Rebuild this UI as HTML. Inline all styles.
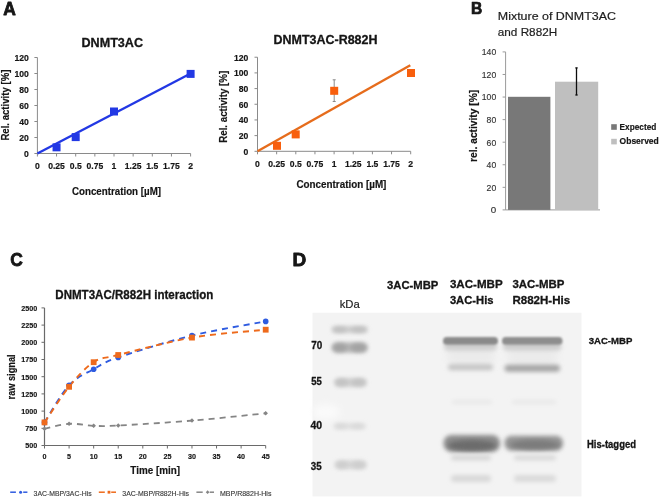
<!DOCTYPE html>
<html><head><meta charset="utf-8"><style>
html,body{margin:0;padding:0;background:#fff;width:660px;height:498px;overflow:hidden}
svg{display:block;font-family:"Liberation Sans",sans-serif}
</style></head><body>
<svg width="660" height="498" viewBox="0 0 660 498">
<defs><filter id="gb" filterUnits="userSpaceOnUse" x="0" y="0" width="660" height="498"><feGaussianBlur stdDeviation="0.35"/></filter></defs>
<g filter="url(#gb)">
<rect x="0" y="0" width="660" height="498" fill="#fff"/>
<text x="3.30" y="14.80" font-size="19.0" font-weight="bold" fill="#141414" stroke="#141414" stroke-width="0.8" stroke-linejoin="round" textLength="12.6" lengthAdjust="spacingAndGlyphs" >A</text>
<text x="81.50" y="47.00" font-size="12.4" font-weight="bold" fill="#141414" stroke="#141414" stroke-width="0.3" stroke-linejoin="round" textLength="61.5" lengthAdjust="spacingAndGlyphs" >DNMT3AC</text>
<line x1="37.40" y1="57.50" x2="37.40" y2="153.50" stroke="#8a8a8a" stroke-width="1" />
<line x1="37.40" y1="153.50" x2="190.60" y2="153.50" stroke="#8a8a8a" stroke-width="1" />
<line x1="34.40" y1="153.50" x2="37.40" y2="153.50" stroke="#8a8a8a" stroke-width="1" />
<text x="28.90" y="156.90" font-size="9.3" font-weight="bold" fill="#141414" stroke="#141414" stroke-width="0.18" stroke-linejoin="round" text-anchor="end" textLength="4.7816" lengthAdjust="spacingAndGlyphs" >0</text>
<line x1="34.40" y1="137.50" x2="37.40" y2="137.50" stroke="#8a8a8a" stroke-width="1" />
<text x="28.90" y="140.90" font-size="9.3" font-weight="bold" fill="#141414" stroke="#141414" stroke-width="0.18" stroke-linejoin="round" text-anchor="end" textLength="9.5632" lengthAdjust="spacingAndGlyphs" >20</text>
<line x1="34.40" y1="121.50" x2="37.40" y2="121.50" stroke="#8a8a8a" stroke-width="1" />
<text x="28.90" y="124.90" font-size="9.3" font-weight="bold" fill="#141414" stroke="#141414" stroke-width="0.18" stroke-linejoin="round" text-anchor="end" textLength="9.5632" lengthAdjust="spacingAndGlyphs" >40</text>
<line x1="34.40" y1="105.50" x2="37.40" y2="105.50" stroke="#8a8a8a" stroke-width="1" />
<text x="28.90" y="108.90" font-size="9.3" font-weight="bold" fill="#141414" stroke="#141414" stroke-width="0.18" stroke-linejoin="round" text-anchor="end" textLength="9.5632" lengthAdjust="spacingAndGlyphs" >60</text>
<line x1="34.40" y1="89.50" x2="37.40" y2="89.50" stroke="#8a8a8a" stroke-width="1" />
<text x="28.90" y="92.90" font-size="9.3" font-weight="bold" fill="#141414" stroke="#141414" stroke-width="0.18" stroke-linejoin="round" text-anchor="end" textLength="9.5632" lengthAdjust="spacingAndGlyphs" >80</text>
<line x1="34.40" y1="73.50" x2="37.40" y2="73.50" stroke="#8a8a8a" stroke-width="1" />
<text x="28.90" y="76.90" font-size="9.3" font-weight="bold" fill="#141414" stroke="#141414" stroke-width="0.18" stroke-linejoin="round" text-anchor="end" textLength="14.344800000000001" lengthAdjust="spacingAndGlyphs" >100</text>
<line x1="34.40" y1="57.50" x2="37.40" y2="57.50" stroke="#8a8a8a" stroke-width="1" />
<text x="28.90" y="60.90" font-size="9.3" font-weight="bold" fill="#141414" stroke="#141414" stroke-width="0.18" stroke-linejoin="round" text-anchor="end" textLength="14.344800000000001" lengthAdjust="spacingAndGlyphs" >120</text>
<line x1="37.40" y1="153.50" x2="37.40" y2="156.50" stroke="#8a8a8a" stroke-width="1" />
<text x="37.40" y="168.90" font-size="9.3" font-weight="bold" fill="#141414" stroke="#141414" stroke-width="0.18" stroke-linejoin="round" text-anchor="middle" textLength="4.7816" lengthAdjust="spacingAndGlyphs" >0</text>
<line x1="56.55" y1="153.50" x2="56.55" y2="156.50" stroke="#8a8a8a" stroke-width="1" />
<text x="56.55" y="168.90" font-size="9.3" font-weight="bold" fill="#141414" stroke="#141414" stroke-width="0.18" stroke-linejoin="round" text-anchor="middle" textLength="16.7356" lengthAdjust="spacingAndGlyphs" >0.25</text>
<line x1="75.70" y1="153.50" x2="75.70" y2="156.50" stroke="#8a8a8a" stroke-width="1" />
<text x="75.70" y="168.90" font-size="9.3" font-weight="bold" fill="#141414" stroke="#141414" stroke-width="0.18" stroke-linejoin="round" text-anchor="middle" textLength="11.954" lengthAdjust="spacingAndGlyphs" >0.5</text>
<line x1="94.85" y1="153.50" x2="94.85" y2="156.50" stroke="#8a8a8a" stroke-width="1" />
<text x="94.85" y="168.90" font-size="9.3" font-weight="bold" fill="#141414" stroke="#141414" stroke-width="0.18" stroke-linejoin="round" text-anchor="middle" textLength="16.7356" lengthAdjust="spacingAndGlyphs" >0.75</text>
<line x1="114.00" y1="153.50" x2="114.00" y2="156.50" stroke="#8a8a8a" stroke-width="1" />
<text x="114.00" y="168.90" font-size="9.3" font-weight="bold" fill="#141414" stroke="#141414" stroke-width="0.18" stroke-linejoin="round" text-anchor="middle" textLength="4.7816" lengthAdjust="spacingAndGlyphs" >1</text>
<line x1="133.15" y1="153.50" x2="133.15" y2="156.50" stroke="#8a8a8a" stroke-width="1" />
<text x="133.15" y="168.90" font-size="9.3" font-weight="bold" fill="#141414" stroke="#141414" stroke-width="0.18" stroke-linejoin="round" text-anchor="middle" textLength="16.7356" lengthAdjust="spacingAndGlyphs" >1.25</text>
<line x1="152.30" y1="153.50" x2="152.30" y2="156.50" stroke="#8a8a8a" stroke-width="1" />
<text x="152.30" y="168.90" font-size="9.3" font-weight="bold" fill="#141414" stroke="#141414" stroke-width="0.18" stroke-linejoin="round" text-anchor="middle" textLength="11.954" lengthAdjust="spacingAndGlyphs" >1.5</text>
<line x1="171.45" y1="153.50" x2="171.45" y2="156.50" stroke="#8a8a8a" stroke-width="1" />
<text x="171.45" y="168.90" font-size="9.3" font-weight="bold" fill="#141414" stroke="#141414" stroke-width="0.18" stroke-linejoin="round" text-anchor="middle" textLength="16.7356" lengthAdjust="spacingAndGlyphs" >1.75</text>
<line x1="190.60" y1="153.50" x2="190.60" y2="156.50" stroke="#8a8a8a" stroke-width="1" />
<text x="190.60" y="168.90" font-size="9.3" font-weight="bold" fill="#141414" stroke="#141414" stroke-width="0.18" stroke-linejoin="round" text-anchor="middle" textLength="4.7816" lengthAdjust="spacingAndGlyphs" >2</text>
<text x="72.00" y="194.50" font-size="10.6" font-weight="bold" fill="#141414" stroke="#141414" stroke-width="0.18" stroke-linejoin="round" textLength="89" lengthAdjust="spacingAndGlyphs" >Concentration [µM]</text>
<text x="9.30" y="140.60" font-size="10.2" font-weight="bold" fill="#141414" stroke="#141414" stroke-width="0.18" stroke-linejoin="round" textLength="71" lengthAdjust="spacingAndGlyphs" transform="rotate(-90 9.30 140.60)" >Rel. activity [%]</text>
<line x1="37.40" y1="153.50" x2="190.60" y2="73.50" stroke="#2338e4" stroke-width="2.4" />
<rect x="52.55" y="143.34" width="8.00" height="8.00" fill="#2338e4" />
<rect x="71.70" y="133.10" width="8.00" height="8.00" fill="#2338e4" />
<rect x="110.00" y="107.50" width="8.00" height="8.00" fill="#2338e4" />
<rect x="186.60" y="69.90" width="8.00" height="8.00" fill="#2338e4" />
<text x="273.50" y="44.20" font-size="12.4" font-weight="bold" fill="#141414" stroke="#141414" stroke-width="0.3" stroke-linejoin="round" textLength="104" lengthAdjust="spacingAndGlyphs" >DNMT3AC-R882H</text>
<line x1="257.50" y1="57.22" x2="257.50" y2="151.30" stroke="#8a8a8a" stroke-width="1" />
<line x1="257.50" y1="151.30" x2="410.70" y2="151.30" stroke="#8a8a8a" stroke-width="1" />
<line x1="254.50" y1="151.30" x2="257.50" y2="151.30" stroke="#8a8a8a" stroke-width="1" />
<text x="248.40" y="154.70" font-size="9.3" font-weight="bold" fill="#141414" stroke="#141414" stroke-width="0.18" stroke-linejoin="round" text-anchor="end" textLength="4.7816" lengthAdjust="spacingAndGlyphs" >0</text>
<line x1="254.50" y1="135.62" x2="257.50" y2="135.62" stroke="#8a8a8a" stroke-width="1" />
<text x="248.40" y="139.02" font-size="9.3" font-weight="bold" fill="#141414" stroke="#141414" stroke-width="0.18" stroke-linejoin="round" text-anchor="end" textLength="9.5632" lengthAdjust="spacingAndGlyphs" >20</text>
<line x1="254.50" y1="119.94" x2="257.50" y2="119.94" stroke="#8a8a8a" stroke-width="1" />
<text x="248.40" y="123.34" font-size="9.3" font-weight="bold" fill="#141414" stroke="#141414" stroke-width="0.18" stroke-linejoin="round" text-anchor="end" textLength="9.5632" lengthAdjust="spacingAndGlyphs" >40</text>
<line x1="254.50" y1="104.26" x2="257.50" y2="104.26" stroke="#8a8a8a" stroke-width="1" />
<text x="248.40" y="107.66" font-size="9.3" font-weight="bold" fill="#141414" stroke="#141414" stroke-width="0.18" stroke-linejoin="round" text-anchor="end" textLength="9.5632" lengthAdjust="spacingAndGlyphs" >60</text>
<line x1="254.50" y1="88.58" x2="257.50" y2="88.58" stroke="#8a8a8a" stroke-width="1" />
<text x="248.40" y="91.98" font-size="9.3" font-weight="bold" fill="#141414" stroke="#141414" stroke-width="0.18" stroke-linejoin="round" text-anchor="end" textLength="9.5632" lengthAdjust="spacingAndGlyphs" >80</text>
<line x1="254.50" y1="72.90" x2="257.50" y2="72.90" stroke="#8a8a8a" stroke-width="1" />
<text x="248.40" y="76.30" font-size="9.3" font-weight="bold" fill="#141414" stroke="#141414" stroke-width="0.18" stroke-linejoin="round" text-anchor="end" textLength="14.344800000000001" lengthAdjust="spacingAndGlyphs" >100</text>
<line x1="254.50" y1="57.22" x2="257.50" y2="57.22" stroke="#8a8a8a" stroke-width="1" />
<text x="248.40" y="60.62" font-size="9.3" font-weight="bold" fill="#141414" stroke="#141414" stroke-width="0.18" stroke-linejoin="round" text-anchor="end" textLength="14.344800000000001" lengthAdjust="spacingAndGlyphs" >120</text>
<line x1="257.50" y1="151.30" x2="257.50" y2="154.30" stroke="#8a8a8a" stroke-width="1" />
<text x="257.50" y="166.80" font-size="9.3" font-weight="bold" fill="#141414" stroke="#141414" stroke-width="0.18" stroke-linejoin="round" text-anchor="middle" textLength="4.7816" lengthAdjust="spacingAndGlyphs" >0</text>
<line x1="276.65" y1="151.30" x2="276.65" y2="154.30" stroke="#8a8a8a" stroke-width="1" />
<text x="276.65" y="166.80" font-size="9.3" font-weight="bold" fill="#141414" stroke="#141414" stroke-width="0.18" stroke-linejoin="round" text-anchor="middle" textLength="16.7356" lengthAdjust="spacingAndGlyphs" >0.25</text>
<line x1="295.80" y1="151.30" x2="295.80" y2="154.30" stroke="#8a8a8a" stroke-width="1" />
<text x="295.80" y="166.80" font-size="9.3" font-weight="bold" fill="#141414" stroke="#141414" stroke-width="0.18" stroke-linejoin="round" text-anchor="middle" textLength="11.954" lengthAdjust="spacingAndGlyphs" >0.5</text>
<line x1="314.95" y1="151.30" x2="314.95" y2="154.30" stroke="#8a8a8a" stroke-width="1" />
<text x="314.95" y="166.80" font-size="9.3" font-weight="bold" fill="#141414" stroke="#141414" stroke-width="0.18" stroke-linejoin="round" text-anchor="middle" textLength="16.7356" lengthAdjust="spacingAndGlyphs" >0.75</text>
<line x1="334.10" y1="151.30" x2="334.10" y2="154.30" stroke="#8a8a8a" stroke-width="1" />
<text x="334.10" y="166.80" font-size="9.3" font-weight="bold" fill="#141414" stroke="#141414" stroke-width="0.18" stroke-linejoin="round" text-anchor="middle" textLength="4.7816" lengthAdjust="spacingAndGlyphs" >1</text>
<line x1="353.25" y1="151.30" x2="353.25" y2="154.30" stroke="#8a8a8a" stroke-width="1" />
<text x="353.25" y="166.80" font-size="9.3" font-weight="bold" fill="#141414" stroke="#141414" stroke-width="0.18" stroke-linejoin="round" text-anchor="middle" textLength="16.7356" lengthAdjust="spacingAndGlyphs" >1.25</text>
<line x1="372.40" y1="151.30" x2="372.40" y2="154.30" stroke="#8a8a8a" stroke-width="1" />
<text x="372.40" y="166.80" font-size="9.3" font-weight="bold" fill="#141414" stroke="#141414" stroke-width="0.18" stroke-linejoin="round" text-anchor="middle" textLength="11.954" lengthAdjust="spacingAndGlyphs" >1.5</text>
<line x1="391.55" y1="151.30" x2="391.55" y2="154.30" stroke="#8a8a8a" stroke-width="1" />
<text x="391.55" y="166.80" font-size="9.3" font-weight="bold" fill="#141414" stroke="#141414" stroke-width="0.18" stroke-linejoin="round" text-anchor="middle" textLength="16.7356" lengthAdjust="spacingAndGlyphs" >1.75</text>
<line x1="410.70" y1="151.30" x2="410.70" y2="154.30" stroke="#8a8a8a" stroke-width="1" />
<text x="410.70" y="166.80" font-size="9.3" font-weight="bold" fill="#141414" stroke="#141414" stroke-width="0.18" stroke-linejoin="round" text-anchor="middle" textLength="4.7816" lengthAdjust="spacingAndGlyphs" >2</text>
<text x="296.40" y="188.40" font-size="10.6" font-weight="bold" fill="#141414" stroke="#141414" stroke-width="0.18" stroke-linejoin="round" textLength="90" lengthAdjust="spacingAndGlyphs" >Concentration [µM]</text>
<text x="227.20" y="142.80" font-size="10.2" font-weight="bold" fill="#141414" stroke="#141414" stroke-width="0.18" stroke-linejoin="round" textLength="72" lengthAdjust="spacingAndGlyphs" transform="rotate(-90 227.20 142.80)" >Rel. activity [%]</text>
<line x1="257.50" y1="151.30" x2="410.30" y2="65.20" stroke="#e66c1c" stroke-width="2.4" />
<line x1="334.20" y1="79.80" x2="334.20" y2="101.50" stroke="#8a8a8a" stroke-width="1" />
<line x1="332.70" y1="79.80" x2="335.70" y2="79.80" stroke="#8a8a8a" stroke-width="1" />
<line x1="332.70" y1="101.50" x2="335.70" y2="101.50" stroke="#8a8a8a" stroke-width="1" />
<rect x="273.00" y="141.80" width="8.00" height="8.00" fill="#f85e08" />
<rect x="291.70" y="130.40" width="8.00" height="8.00" fill="#f85e08" />
<rect x="330.20" y="86.80" width="8.00" height="8.00" fill="#f85e08" />
<rect x="407.00" y="69.00" width="8.00" height="8.00" fill="#f85e08" />
<text x="471.00" y="14.30" font-size="15.6" font-weight="bold" fill="#141414" stroke="#141414" stroke-width="0.7" stroke-linejoin="round" >B</text>
<text x="497.80" y="20.20" font-size="11.4" font-weight="normal" fill="#1e1e1e" stroke="#1e1e1e" stroke-width="0.2" stroke-linejoin="round" textLength="118.2" lengthAdjust="spacingAndGlyphs" >Mixture of DNMT3AC</text>
<text x="497.80" y="36.40" font-size="11.4" font-weight="normal" fill="#1e1e1e" stroke="#1e1e1e" stroke-width="0.2" stroke-linejoin="round" textLength="59.4" lengthAdjust="spacingAndGlyphs" >and R882H</text>
<line x1="505.60" y1="51.91" x2="505.60" y2="209.90" stroke="#9a9a9a" stroke-width="1" />
<line x1="505.60" y1="209.90" x2="600.00" y2="209.90" stroke="#9a9a9a" stroke-width="1" />
<line x1="502.60" y1="209.90" x2="505.60" y2="209.90" stroke="#9a9a9a" stroke-width="1" />
<text x="496.20" y="213.30" font-size="9.8" font-weight="normal" fill="#333333" stroke="#333333" stroke-width="0.15" stroke-linejoin="round" text-anchor="end" >0</text>
<line x1="502.60" y1="187.33" x2="505.60" y2="187.33" stroke="#9a9a9a" stroke-width="1" />
<text x="496.20" y="190.73" font-size="9.8" font-weight="normal" fill="#333333" stroke="#333333" stroke-width="0.15" stroke-linejoin="round" text-anchor="end" textLength="9.6" lengthAdjust="spacingAndGlyphs" >20</text>
<line x1="502.60" y1="164.76" x2="505.60" y2="164.76" stroke="#9a9a9a" stroke-width="1" />
<text x="496.20" y="168.16" font-size="9.8" font-weight="normal" fill="#333333" stroke="#333333" stroke-width="0.15" stroke-linejoin="round" text-anchor="end" textLength="9.6" lengthAdjust="spacingAndGlyphs" >40</text>
<line x1="502.60" y1="142.19" x2="505.60" y2="142.19" stroke="#9a9a9a" stroke-width="1" />
<text x="496.20" y="145.59" font-size="9.8" font-weight="normal" fill="#333333" stroke="#333333" stroke-width="0.15" stroke-linejoin="round" text-anchor="end" textLength="9.6" lengthAdjust="spacingAndGlyphs" >60</text>
<line x1="502.60" y1="119.62" x2="505.60" y2="119.62" stroke="#9a9a9a" stroke-width="1" />
<text x="496.20" y="123.02" font-size="9.8" font-weight="normal" fill="#333333" stroke="#333333" stroke-width="0.15" stroke-linejoin="round" text-anchor="end" textLength="9.6" lengthAdjust="spacingAndGlyphs" >80</text>
<line x1="502.60" y1="97.05" x2="505.60" y2="97.05" stroke="#9a9a9a" stroke-width="1" />
<text x="496.20" y="100.45" font-size="9.8" font-weight="normal" fill="#333333" stroke="#333333" stroke-width="0.15" stroke-linejoin="round" text-anchor="end" textLength="14.4" lengthAdjust="spacingAndGlyphs" >100</text>
<line x1="502.60" y1="74.48" x2="505.60" y2="74.48" stroke="#9a9a9a" stroke-width="1" />
<text x="496.20" y="77.88" font-size="9.8" font-weight="normal" fill="#333333" stroke="#333333" stroke-width="0.15" stroke-linejoin="round" text-anchor="end" textLength="14.4" lengthAdjust="spacingAndGlyphs" >120</text>
<line x1="502.60" y1="51.91" x2="505.60" y2="51.91" stroke="#9a9a9a" stroke-width="1" />
<text x="496.20" y="55.31" font-size="9.8" font-weight="normal" fill="#333333" stroke="#333333" stroke-width="0.15" stroke-linejoin="round" text-anchor="end" textLength="14.4" lengthAdjust="spacingAndGlyphs" >140</text>
<rect x="508.00" y="96.80" width="42.40" height="113.10" fill="#787878" />
<rect x="555.00" y="81.70" width="43.20" height="128.20" fill="#bfbfbf" />
<line x1="576.50" y1="67.70" x2="576.50" y2="95.20" stroke="#111" stroke-width="1.3" />
<line x1="575.30" y1="67.90" x2="577.70" y2="67.90" stroke="#111" stroke-width="1.2" />
<line x1="575.30" y1="95.00" x2="577.70" y2="95.00" stroke="#111" stroke-width="1.2" />
<text x="476.80" y="162.00" font-size="10.2" font-weight="bold" fill="#141414" stroke="#141414" stroke-width="0.18" stroke-linejoin="round" textLength="72.2" lengthAdjust="spacingAndGlyphs" transform="rotate(-90 476.80 162.00)" >rel. activity [%]</text>
<rect x="611.20" y="124.20" width="5.60" height="5.60" fill="#787878" />
<rect x="611.20" y="138.80" width="5.60" height="5.60" fill="#bfbfbf" />
<text x="619.60" y="130.00" font-size="9.0" font-weight="bold" fill="#141414" stroke="#141414" stroke-width="0.18" stroke-linejoin="round" textLength="36.8" lengthAdjust="spacingAndGlyphs" >Expected</text>
<text x="619.60" y="144.40" font-size="9.0" font-weight="bold" fill="#141414" stroke="#141414" stroke-width="0.18" stroke-linejoin="round" textLength="39.2" lengthAdjust="spacingAndGlyphs" >Observed</text>
<text x="10.20" y="266.00" font-size="19.0" font-weight="bold" fill="#141414" stroke="#141414" stroke-width="0.8" stroke-linejoin="round" textLength="12.6" lengthAdjust="spacingAndGlyphs" >C</text>
<text x="55.30" y="298.80" font-size="12.4" font-weight="bold" fill="#141414" stroke="#141414" stroke-width="0.3" stroke-linejoin="round" textLength="158" lengthAdjust="spacingAndGlyphs" >DNMT3AC/R882H interaction</text>
<line x1="44.50" y1="307.90" x2="44.50" y2="445.50" stroke="#6a6a6a" stroke-width="1.2" />
<line x1="44.50" y1="445.50" x2="265.70" y2="445.50" stroke="#6a6a6a" stroke-width="1.2" />
<line x1="41.50" y1="445.50" x2="44.50" y2="445.50" stroke="#6a6a6a" stroke-width="1" />
<text x="37.20" y="448.40" font-size="7.9" font-weight="bold" fill="#141414" stroke="#141414" stroke-width="0.15" stroke-linejoin="round" text-anchor="end" textLength="12.0096" lengthAdjust="spacingAndGlyphs" >500</text>
<line x1="41.50" y1="428.30" x2="44.50" y2="428.30" stroke="#6a6a6a" stroke-width="1" />
<text x="37.20" y="431.20" font-size="7.9" font-weight="bold" fill="#141414" stroke="#141414" stroke-width="0.15" stroke-linejoin="round" text-anchor="end" textLength="12.0096" lengthAdjust="spacingAndGlyphs" >750</text>
<line x1="41.50" y1="411.10" x2="44.50" y2="411.10" stroke="#6a6a6a" stroke-width="1" />
<text x="37.20" y="414.00" font-size="7.9" font-weight="bold" fill="#141414" stroke="#141414" stroke-width="0.15" stroke-linejoin="round" text-anchor="end" textLength="16.012800000000002" lengthAdjust="spacingAndGlyphs" >1000</text>
<line x1="41.50" y1="393.90" x2="44.50" y2="393.90" stroke="#6a6a6a" stroke-width="1" />
<text x="37.20" y="396.80" font-size="7.9" font-weight="bold" fill="#141414" stroke="#141414" stroke-width="0.15" stroke-linejoin="round" text-anchor="end" textLength="16.012800000000002" lengthAdjust="spacingAndGlyphs" >1250</text>
<line x1="41.50" y1="376.70" x2="44.50" y2="376.70" stroke="#6a6a6a" stroke-width="1" />
<text x="37.20" y="379.60" font-size="7.9" font-weight="bold" fill="#141414" stroke="#141414" stroke-width="0.15" stroke-linejoin="round" text-anchor="end" textLength="16.012800000000002" lengthAdjust="spacingAndGlyphs" >1500</text>
<line x1="41.50" y1="359.50" x2="44.50" y2="359.50" stroke="#6a6a6a" stroke-width="1" />
<text x="37.20" y="362.40" font-size="7.9" font-weight="bold" fill="#141414" stroke="#141414" stroke-width="0.15" stroke-linejoin="round" text-anchor="end" textLength="16.012800000000002" lengthAdjust="spacingAndGlyphs" >1750</text>
<line x1="41.50" y1="342.30" x2="44.50" y2="342.30" stroke="#6a6a6a" stroke-width="1" />
<text x="37.20" y="345.20" font-size="7.9" font-weight="bold" fill="#141414" stroke="#141414" stroke-width="0.15" stroke-linejoin="round" text-anchor="end" textLength="16.012800000000002" lengthAdjust="spacingAndGlyphs" >2000</text>
<line x1="41.50" y1="325.10" x2="44.50" y2="325.10" stroke="#6a6a6a" stroke-width="1" />
<text x="37.20" y="328.00" font-size="7.9" font-weight="bold" fill="#141414" stroke="#141414" stroke-width="0.15" stroke-linejoin="round" text-anchor="end" textLength="16.012800000000002" lengthAdjust="spacingAndGlyphs" >2250</text>
<line x1="41.50" y1="307.90" x2="44.50" y2="307.90" stroke="#6a6a6a" stroke-width="1" />
<text x="37.20" y="310.80" font-size="7.9" font-weight="bold" fill="#141414" stroke="#141414" stroke-width="0.15" stroke-linejoin="round" text-anchor="end" textLength="16.012800000000002" lengthAdjust="spacingAndGlyphs" >2500</text>
<line x1="44.50" y1="445.50" x2="44.50" y2="448.50" stroke="#6a6a6a" stroke-width="1" />
<text x="44.50" y="459.20" font-size="7.9" font-weight="bold" fill="#141414" stroke="#141414" stroke-width="0.15" stroke-linejoin="round" text-anchor="middle" textLength="4.0032000000000005" lengthAdjust="spacingAndGlyphs" >0</text>
<line x1="69.08" y1="445.50" x2="69.08" y2="448.50" stroke="#6a6a6a" stroke-width="1" />
<text x="69.08" y="459.20" font-size="7.9" font-weight="bold" fill="#141414" stroke="#141414" stroke-width="0.15" stroke-linejoin="round" text-anchor="middle" textLength="4.0032000000000005" lengthAdjust="spacingAndGlyphs" >5</text>
<line x1="93.66" y1="445.50" x2="93.66" y2="448.50" stroke="#6a6a6a" stroke-width="1" />
<text x="93.66" y="459.20" font-size="7.9" font-weight="bold" fill="#141414" stroke="#141414" stroke-width="0.15" stroke-linejoin="round" text-anchor="middle" textLength="8.006400000000001" lengthAdjust="spacingAndGlyphs" >10</text>
<line x1="118.23" y1="445.50" x2="118.23" y2="448.50" stroke="#6a6a6a" stroke-width="1" />
<text x="118.23" y="459.20" font-size="7.9" font-weight="bold" fill="#141414" stroke="#141414" stroke-width="0.15" stroke-linejoin="round" text-anchor="middle" textLength="8.006400000000001" lengthAdjust="spacingAndGlyphs" >15</text>
<line x1="142.81" y1="445.50" x2="142.81" y2="448.50" stroke="#6a6a6a" stroke-width="1" />
<text x="142.81" y="459.20" font-size="7.9" font-weight="bold" fill="#141414" stroke="#141414" stroke-width="0.15" stroke-linejoin="round" text-anchor="middle" textLength="8.006400000000001" lengthAdjust="spacingAndGlyphs" >20</text>
<line x1="167.39" y1="445.50" x2="167.39" y2="448.50" stroke="#6a6a6a" stroke-width="1" />
<text x="167.39" y="459.20" font-size="7.9" font-weight="bold" fill="#141414" stroke="#141414" stroke-width="0.15" stroke-linejoin="round" text-anchor="middle" textLength="8.006400000000001" lengthAdjust="spacingAndGlyphs" >25</text>
<line x1="191.97" y1="445.50" x2="191.97" y2="448.50" stroke="#6a6a6a" stroke-width="1" />
<text x="191.97" y="459.20" font-size="7.9" font-weight="bold" fill="#141414" stroke="#141414" stroke-width="0.15" stroke-linejoin="round" text-anchor="middle" textLength="8.006400000000001" lengthAdjust="spacingAndGlyphs" >30</text>
<line x1="216.54" y1="445.50" x2="216.54" y2="448.50" stroke="#6a6a6a" stroke-width="1" />
<text x="216.54" y="459.20" font-size="7.9" font-weight="bold" fill="#141414" stroke="#141414" stroke-width="0.15" stroke-linejoin="round" text-anchor="middle" textLength="8.006400000000001" lengthAdjust="spacingAndGlyphs" >35</text>
<line x1="241.12" y1="445.50" x2="241.12" y2="448.50" stroke="#6a6a6a" stroke-width="1" />
<text x="241.12" y="459.20" font-size="7.9" font-weight="bold" fill="#141414" stroke="#141414" stroke-width="0.15" stroke-linejoin="round" text-anchor="middle" textLength="8.006400000000001" lengthAdjust="spacingAndGlyphs" >40</text>
<line x1="265.70" y1="445.50" x2="265.70" y2="448.50" stroke="#6a6a6a" stroke-width="1" />
<text x="265.70" y="459.20" font-size="7.9" font-weight="bold" fill="#141414" stroke="#141414" stroke-width="0.15" stroke-linejoin="round" text-anchor="middle" textLength="8.006400000000001" lengthAdjust="spacingAndGlyphs" >45</text>
<text x="130.30" y="474.20" font-size="10.2" font-weight="bold" fill="#141414" stroke="#141414" stroke-width="0.18" stroke-linejoin="round" textLength="49.7" lengthAdjust="spacingAndGlyphs" >Time [min]</text>
<text x="14.60" y="399.40" font-size="10.4" font-weight="bold" fill="#141414" stroke="#141414" stroke-width="0.18" stroke-linejoin="round" textLength="45" lengthAdjust="spacingAndGlyphs" transform="rotate(-90 14.60 399.40)" >raw signal</text>
<path d="M44.50,428.80 C48.60,427.97 60.89,424.30 69.08,423.80 C77.27,423.30 85.46,425.52 93.66,425.80 C101.85,426.08 101.85,426.37 118.23,425.50 C134.62,424.63 167.39,422.63 191.97,420.60 C216.54,418.57 253.41,414.52 265.70,413.30" fill="none" stroke="#858585" stroke-width="1.8" stroke-dasharray="6,5"/>
<path d="M44.50,422.40 C48.60,416.20 60.89,394.07 69.08,385.20 C77.27,376.33 85.46,373.83 93.66,369.20 C101.85,364.57 101.85,363.00 118.23,357.40 C134.62,351.80 167.39,341.60 191.97,335.60 C216.54,329.60 253.41,323.77 265.70,321.40" fill="none" stroke="#2f5be0" stroke-width="1.9" stroke-dasharray="6,5"/>
<path d="M44.50,422.40 C48.60,416.47 60.89,396.83 69.08,386.80 C77.27,376.77 85.46,367.50 93.66,362.20 C101.85,356.90 101.85,359.10 118.23,355.00 C134.62,350.90 167.39,341.82 191.97,337.60 C216.54,333.38 253.41,331.02 265.70,329.70" fill="none" stroke="#ee6a1a" stroke-width="1.9" stroke-dasharray="6,5"/>
<rect x="42.90" y="427.20" width="3.2" height="3.2" fill="#858585" transform="rotate(45 44.50 428.80)"/>
<rect x="67.48" y="422.20" width="3.2" height="3.2" fill="#858585" transform="rotate(45 69.08 423.80)"/>
<rect x="92.06" y="424.20" width="3.2" height="3.2" fill="#858585" transform="rotate(45 93.66 425.80)"/>
<rect x="116.63" y="423.90" width="3.2" height="3.2" fill="#858585" transform="rotate(45 118.23 425.50)"/>
<rect x="190.37" y="419.00" width="3.2" height="3.2" fill="#858585" transform="rotate(45 191.97 420.60)"/>
<rect x="264.10" y="411.70" width="3.2" height="3.2" fill="#858585" transform="rotate(45 265.70 413.30)"/>
<circle cx="44.50" cy="422.40" r="2.8" fill="#2f5be0"/>
<circle cx="69.08" cy="385.20" r="2.8" fill="#2f5be0"/>
<circle cx="93.66" cy="369.20" r="2.8" fill="#2f5be0"/>
<circle cx="118.23" cy="357.40" r="2.8" fill="#2f5be0"/>
<circle cx="191.97" cy="335.60" r="2.8" fill="#2f5be0"/>
<circle cx="265.70" cy="321.40" r="2.8" fill="#2f5be0"/>
<rect x="41.60" y="419.50" width="5.80" height="5.80" fill="#ee6a1a" />
<rect x="66.18" y="383.90" width="5.80" height="5.80" fill="#ee6a1a" />
<rect x="90.76" y="359.30" width="5.80" height="5.80" fill="#ee6a1a" />
<rect x="115.33" y="352.10" width="5.80" height="5.80" fill="#ee6a1a" />
<rect x="189.07" y="334.70" width="5.80" height="5.80" fill="#ee6a1a" />
<rect x="262.80" y="326.80" width="5.80" height="5.80" fill="#ee6a1a" />
<line x1="10.20" y1="492.20" x2="15.90" y2="492.20" stroke="#2f5be0" stroke-width="1.5" />
<line x1="23.20" y1="492.20" x2="27.40" y2="492.20" stroke="#2f5be0" stroke-width="1.5" />
<circle cx="20.6" cy="492.2" r="1.5" fill="#2f5be0"/>
<text x="33.60" y="495.50" font-size="7.8" font-weight="normal" fill="#3a3a3a" stroke="#3a3a3a" stroke-width="0.15" stroke-linejoin="round" textLength="58" lengthAdjust="spacingAndGlyphs" >3AC-MBP/3AC-His</text>
<line x1="98.80" y1="492.20" x2="104.80" y2="492.20" stroke="#ee6a1a" stroke-width="1.5" />
<line x1="111.20" y1="492.20" x2="116.00" y2="492.20" stroke="#ee6a1a" stroke-width="1.5" />
<rect x="107.60" y="490.80" width="2.80" height="2.80" fill="#ee6a1a" />
<text x="122.30" y="495.50" font-size="7.8" font-weight="normal" fill="#3a3a3a" stroke="#3a3a3a" stroke-width="0.15" stroke-linejoin="round" textLength="66.6" lengthAdjust="spacingAndGlyphs" >3AC-MBP/R882H-His</text>
<line x1="196.40" y1="492.20" x2="202.70" y2="492.20" stroke="#858585" stroke-width="1.5" />
<line x1="209.70" y1="492.20" x2="214.00" y2="492.20" stroke="#858585" stroke-width="1.5" />
<rect x="206.30" y="490.90" width="2.6" height="2.6" fill="#858585" transform="rotate(45 207.6 492.2)"/>
<text x="220.00" y="495.50" font-size="7.8" font-weight="normal" fill="#3a3a3a" stroke="#3a3a3a" stroke-width="0.15" stroke-linejoin="round" textLength="51.4" lengthAdjust="spacingAndGlyphs" >MBP/R882H-His</text>
<text x="292.40" y="266.00" font-size="19.0" font-weight="bold" fill="#141414" stroke="#141414" stroke-width="0.8" stroke-linejoin="round" >D</text>
<text x="387.00" y="288.60" font-size="11.7" font-weight="bold" fill="#141414" stroke="#141414" stroke-width="0.3" stroke-linejoin="round" textLength="51.4" lengthAdjust="spacingAndGlyphs" >3AC-MBP</text>
<text x="449.90" y="288.00" font-size="11.7" font-weight="bold" fill="#141414" stroke="#141414" stroke-width="0.3" stroke-linejoin="round" textLength="52.8" lengthAdjust="spacingAndGlyphs" >3AC-MBP</text>
<text x="449.90" y="304.40" font-size="11.7" font-weight="bold" fill="#141414" stroke="#141414" stroke-width="0.3" stroke-linejoin="round" textLength="43.6" lengthAdjust="spacingAndGlyphs" >3AC-His</text>
<text x="512.40" y="288.00" font-size="11.7" font-weight="bold" fill="#141414" stroke="#141414" stroke-width="0.3" stroke-linejoin="round" textLength="52.1" lengthAdjust="spacingAndGlyphs" >3AC-MBP</text>
<text x="512.40" y="304.40" font-size="11.7" font-weight="bold" fill="#141414" stroke="#141414" stroke-width="0.3" stroke-linejoin="round" textLength="57.7" lengthAdjust="spacingAndGlyphs" >R882H-His</text>
<text x="339.70" y="308.00" font-size="11.6" font-weight="normal" fill="#1e1e1e" stroke="#1e1e1e" stroke-width="0.2" stroke-linejoin="round" textLength="20.1" lengthAdjust="spacingAndGlyphs" >kDa</text>
<defs><filter id="b0" filterUnits="userSpaceOnUse" x="300" y="300" width="300" height="198"><feGaussianBlur stdDeviation="1.3"/></filter><filter id="b1" filterUnits="userSpaceOnUse" x="300" y="300" width="300" height="198"><feGaussianBlur stdDeviation="1.8"/></filter><filter id="b2" filterUnits="userSpaceOnUse" x="300" y="300" width="300" height="198"><feGaussianBlur stdDeviation="2.0"/></filter><filter id="b3" filterUnits="userSpaceOnUse" x="300" y="300" width="300" height="198"><feGaussianBlur stdDeviation="3.5"/></filter></defs>
<rect x="312.50" y="312.70" width="269.00" height="183.70" fill="#f3f3f3" />
<ellipse cx="326" cy="412" rx="14" ry="8" fill="#fafafa" filter="url(#b3)"/>
<rect x="332.00" y="326.35" width="35.50" height="6.50" rx="3.25" fill="#cbcbcb" opacity="1.0" filter="url(#b2)"/>
<ellipse cx="339.81" cy="329.60" rx="7.10" ry="2.60" fill="#bfbfbf" filter="url(#b2)"/>
<ellipse cx="358.62" cy="329.60" rx="7.81" ry="2.60" fill="#bfbfbf" filter="url(#b2)"/>
<rect x="332.00" y="342.60" width="35.50" height="10.00" rx="5.00" fill="#b2b2b2" opacity="1.0" filter="url(#b2)"/>
<ellipse cx="339.81" cy="347.60" rx="7.10" ry="4.00" fill="#a2a2a2" filter="url(#b2)"/>
<ellipse cx="358.62" cy="347.60" rx="7.81" ry="4.00" fill="#a2a2a2" filter="url(#b2)"/>
<rect x="334.50" y="378.15" width="32.00" height="8.50" rx="4.25" fill="#cdcdcd" opacity="1.0" filter="url(#b2)"/>
<ellipse cx="341.54" cy="382.40" rx="6.40" ry="3.40" fill="#c2c2c2" filter="url(#b2)"/>
<ellipse cx="358.50" cy="382.40" rx="7.04" ry="3.40" fill="#c2c2c2" filter="url(#b2)"/>
<rect x="334.00" y="423.45" width="31.50" height="5.50" rx="2.75" fill="#dedede" opacity="1.0" filter="url(#b2)"/>
<ellipse cx="340.93" cy="426.20" rx="6.30" ry="2.20" fill="#d8d8d8" filter="url(#b2)"/>
<ellipse cx="357.62" cy="426.20" rx="6.93" ry="2.20" fill="#d8d8d8" filter="url(#b2)"/>
<rect x="335.00" y="460.55" width="31.50" height="8.50" rx="4.25" fill="#d6d6d6" opacity="1.0" filter="url(#b2)"/>
<ellipse cx="341.93" cy="464.80" rx="6.30" ry="3.40" fill="#cdcdcd" filter="url(#b2)"/>
<ellipse cx="358.62" cy="464.80" rx="6.93" ry="3.40" fill="#cdcdcd" filter="url(#b2)"/>
<rect x="447.00" y="346.00" width="48.00" height="20.00" rx="10.00" fill="#ebebeb" opacity="1.0" filter="url(#b3)"/>
<rect x="507.00" y="346.00" width="51.00" height="20.00" rx="10.00" fill="#ebebeb" opacity="1.0" filter="url(#b3)"/>
<rect x="444.00" y="342.50" width="53.00" height="8.00" rx="4.00" fill="#cdcdcd" opacity="1.0" filter="url(#b2)"/>
<rect x="503.00" y="342.50" width="58.50" height="8.00" rx="4.00" fill="#cdcdcd" opacity="1.0" filter="url(#b2)"/>
<rect x="443.00" y="337.10" width="55.00" height="7.60" rx="3.80" fill="#8a8a8a" opacity="1.0" filter="url(#b0)"/>
<rect x="502.00" y="337.10" width="60.50" height="7.60" rx="3.80" fill="#8e8e8e" opacity="1.0" filter="url(#b0)"/>
<rect x="448.00" y="364.20" width="45.00" height="6.00" rx="3.00" fill="#c4c4c4" opacity="1.0" filter="url(#b2)"/>
<rect x="504.50" y="364.80" width="55.50" height="7.00" rx="3.50" fill="#a4a4a4" opacity="1.0" filter="url(#b2)"/>
<rect x="452.00" y="400.50" width="40.00" height="3.00" rx="1.50" fill="#e4e4e4" opacity="1.0" filter="url(#b2)"/>
<rect x="512.00" y="400.50" width="44.00" height="3.00" rx="1.50" fill="#e4e4e4" opacity="1.0" filter="url(#b2)"/>
<rect x="443.50" y="434.90" width="56.50" height="17.00" rx="8.00" fill="#8c8c8c" opacity="1.0" filter="url(#b2)"/>
<rect x="504.50" y="435.70" width="58.50" height="15.00" rx="7.00" fill="#959595" opacity="1.0" filter="url(#b2)"/>
<ellipse cx="472" cy="445.5" rx="24" ry="5.5" fill="#6c6c6c" filter="url(#b2)"/>
<ellipse cx="535" cy="444.8" rx="25" ry="4.8" fill="#7c7c7c" filter="url(#b2)"/>
<rect x="451.00" y="455.30" width="40.00" height="5.00" rx="2.50" fill="#d4d4d4" opacity="1.0" filter="url(#b2)"/>
<rect x="514.00" y="455.30" width="42.00" height="5.00" rx="2.50" fill="#d8d8d8" opacity="1.0" filter="url(#b2)"/>
<rect x="451.00" y="475.00" width="40.00" height="7.00" rx="3.50" fill="#d8d8d8" opacity="1.0" filter="url(#b2)"/>
<rect x="514.00" y="475.00" width="42.00" height="7.00" rx="3.50" fill="#dadada" opacity="1.0" filter="url(#b2)"/>
<text x="311.20" y="349.20" font-size="10.8" font-weight="bold" fill="#141414" stroke="#141414" stroke-width="0.3" stroke-linejoin="round" textLength="11.0" lengthAdjust="spacingAndGlyphs" >70</text>
<text x="311.20" y="384.50" font-size="10.8" font-weight="bold" fill="#141414" stroke="#141414" stroke-width="0.3" stroke-linejoin="round" textLength="10.6" lengthAdjust="spacingAndGlyphs" >55</text>
<text x="310.40" y="428.80" font-size="10.8" font-weight="bold" fill="#141414" stroke="#141414" stroke-width="0.3" stroke-linejoin="round" textLength="11.6" lengthAdjust="spacingAndGlyphs" >40</text>
<text x="310.70" y="470.30" font-size="10.8" font-weight="bold" fill="#141414" stroke="#141414" stroke-width="0.3" stroke-linejoin="round" textLength="10.9" lengthAdjust="spacingAndGlyphs" >35</text>
<text x="588.70" y="344.30" font-size="9.7" font-weight="bold" fill="#141414" stroke="#141414" stroke-width="0.3" stroke-linejoin="round" textLength="43.7" lengthAdjust="spacingAndGlyphs" >3AC-MBP</text>
<text x="587.00" y="447.90" font-size="10.3" font-weight="bold" fill="#141414" stroke="#141414" stroke-width="0.3" stroke-linejoin="round" textLength="49" lengthAdjust="spacingAndGlyphs" >His-tagged</text>
</g>
</svg>
</body></html>
